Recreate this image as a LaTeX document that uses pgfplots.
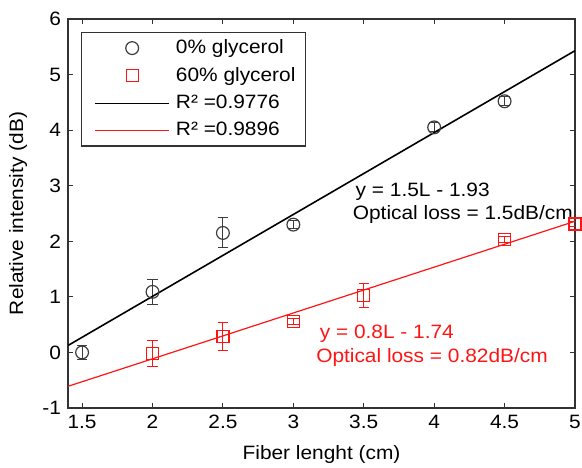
\documentclass[border=0pt]{standalone}
\usepackage{fontspec}
\setmainfont{Liberation Sans}[FakeStretch=1.08]
\usepackage{pgfplots}
\usepackage{pgfplotstable}
\pgfplotsset{compat=1.18}
\definecolor{myred}{RGB}{255,20,20}
\definecolor{axgray}{RGB}{50,50,50}
\definecolor{datgray}{RGB}{60,60,60}

\pgfplotsset{
  longline legend/.style={legend image code/.code={\draw[##1] (2.5bp,0bp) -- (39.5bp,0bp); \path (41.5bp,0bp);}},
  centermark legend/.style={legend image code/.code={\draw[##1, only marks] plot coordinates {(21bp,0bp)}; \path (0bp,0bp) (41.5bp,0bp);}},
}

\pgfplotstableread{
x   y     e
1.5 0.00  0.12
2.0 1.09  0.22
2.5 2.15  0.27
3.0 2.30  0.07
4.0 4.05  0.08
4.5 4.52  0.08
}\tblA
\pgfplotstableread{
x   y     e
2.0 -0.02 0.24
2.5 0.29  0.25
3.0 0.56  0.05
3.5 1.02  0.22
4.5 2.03  0.06
5.0 2.31  0.05
}\tblB

\begin{document}
\begin{tikzpicture}
\begin{axis}[
  scale only axis, width=253.5bp, height=194.5bp,
  xmin=1.4, xmax=5, ymin=-1, ymax=6,
  xtick={1.5,2,2.5,3,3.5,4,4.5,5},
  ytick={-1,0,1,2,3,4,5,6},
  /pgf/number format/assume math mode=true,
  tick align=inside, major tick length=2.5bp,
  axis line style={axgray, line width=0.6pt},
  tick style={axgray, line width=0.5pt},
  font=\fontsize{9.7}{11.6}\selectfont,
  tick label style={font=\fontsize{9.7}{11.6}\selectfont},
  xlabel={Fiber lenght (cm)}, ylabel={Relative intensity (dB)},
  every axis x label/.style={at={(axis description cs:0.5,0)}, anchor=center, yshift=-23.5bp},
  every axis y label/.style={at={(axis description cs:-0.0986,0.5)}, anchor=center, rotate=90},
  legend style={at={(axis description cs:0.0256,0.9666)}, anchor=north west,
    draw=axgray, line width=0.6pt, inner xsep=4bp, inner ysep=2.5bp,
    row sep=3.4bp, font=\fontsize{9.7}{11.6}\selectfont,
    nodes={inner sep=1bp}},
  legend cell align=left,
]
\addplot[datgray, only marks, mark=o, mark size=3.2bp, mark options={line width=0.6pt},
  centermark legend,
  error bars/.cd, y dir=both, y explicit,
  error bar style={line width=0.5pt},
  error mark options={datgray, mark size=2.6bp, line width=0.5pt, rotate=90},
  ] table[x=x, y=y, y error=e] {\tblA};
\addlegendentry{0\% glycerol}
\addplot[myred, only marks, mark=square, mark size=3bp, mark options={line width=0.6pt},
  centermark legend,
  error bars/.cd, y dir=both, y explicit,
  error bar style={line width=0.5pt},
  error mark options={myred, mark size=2.6bp, line width=0.5pt, rotate=90},
  ] table[x=x, y=y, y error=e] {\tblB};
\addlegendentry{60\% glycerol}
\addplot[black, line width=0.8pt, no marks, longline legend] coordinates {(1.4,0.125) (5,5.43)};
\addlegendentry{R² =0.9776}
\addplot[myred, line width=0.6pt, no marks, longline legend] coordinates {(1.4,-0.61) (5,2.36)};
\addlegendentry{R² =0.9896}
\node[anchor=west, inner sep=0pt, text=black] at (axis cs:3.44,2.89) {y = 1.5L - 1.93};
\node[anchor=west, inner sep=0pt, text=black] at (axis cs:3.42,2.48) {Optical loss = 1.5dB/cm};
\node[anchor=west, inner sep=0pt, text=myred] at (axis cs:3.185,0.34) {y = 0.8L - 1.74};
\node[anchor=west, inner sep=0pt, text=myred] at (axis cs:3.16,-0.09) {Optical loss = 0.82dB/cm};
\end{axis}
\pgfresetboundingbox
\path (-34bp,-30bp) rectangle (257bp,204bp);
\end{tikzpicture}
\end{document}
